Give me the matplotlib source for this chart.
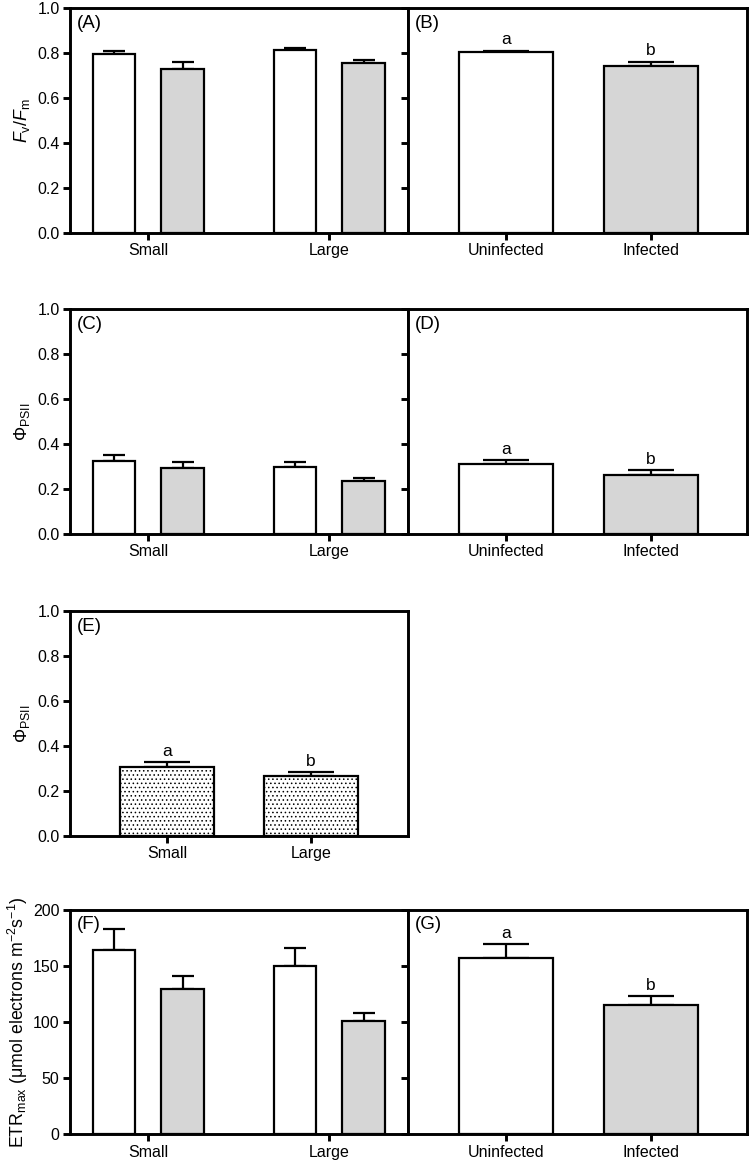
import numpy as np
import matplotlib
matplotlib.use("Agg")
import matplotlib.pyplot as plt

# Данные
size_groups = ["Small", "Large"]
infection_groups = ["Uninfected", "Infected"]

# (A) Fv/Fm: по размеру, белые = неинфицированные, серые = инфицированные
fvfm_uninf = [0.795, 0.813]
fvfm_uninf_err = [0.012, 0.010]
fvfm_inf = [0.728, 0.755]
fvfm_inf_err = [0.033, 0.015]
# (B) Fv/Fm по заражению
fvfm_b = [0.804, 0.740]
fvfm_b_err = [0.007, 0.021]

# (C) PhiPSII
phi_uninf = [0.326, 0.298]
phi_uninf_err = [0.026, 0.022]
phi_inf = [0.294, 0.236]
phi_inf_err = [0.028, 0.015]
# (D)
phi_d = [0.310, 0.264]
phi_d_err = [0.019, 0.021]
# (E) по размеру
phi_e = [0.307, 0.264]
phi_e_err = [0.021, 0.018]

# (F) ETRmax
etr_uninf = [164.1, 150.2]
etr_uninf_err = [18.7, 15.4]
etr_inf = [129.2, 100.7]
etr_inf_err = [12.1, 6.9]
# (G)
etr_g = [157.0, 114.7]
etr_g_err = [12.4, 8.2]

letters = ["a", "b"]

plt.rcParams["font.family"] = ["Liberation Sans", "DejaVu Sans"]
plt.rcParams["mathtext.fontset"] = "custom"
plt.rcParams["mathtext.rm"] = "Liberation Sans"
plt.rcParams["mathtext.it"] = "Liberation Sans:italic"
plt.rcParams["hatch.linewidth"] = 0.6

GRAY = "#d6d6d6"
LW_SPINE = 2.1
LW_BAR = 1.6
TICK_FS = 11.5
PANEL_FS = 13.5
LETTER_FS = 12.5
YLAB_FS = 12.8

fig = plt.figure(figsize=(7.5, 11.64), dpi=100)


def style_axes(ax, ylim, yticks, yfmt, show_labels=True):
    for s in ax.spines.values():
        s.set_linewidth(LW_SPINE)
    ax.set_ylim(*ylim)
    ax.set_yticks(yticks)
    if show_labels:
        ax.set_yticklabels([yfmt.format(v) for v in yticks])
    else:
        ax.set_yticklabels([])
    ax.tick_params(axis="both", direction="out", length=5, width=LW_SPINE,
                   labelsize=TICK_FS, pad=2.5)


def pair_panel(ax, uninf, uninf_err, inf, inf_err, ylim, yticks, yfmt, label):
    x = np.arange(len(size_groups))
    w = 0.236
    off = 0.19
    ax.bar(x - off, uninf, w, color="white", edgecolor="black", linewidth=LW_BAR, zorder=3)
    ax.bar(x + off, inf, w, color=GRAY, edgecolor="black", linewidth=LW_BAR, zorder=3)
    ax.errorbar(x - off, uninf, yerr=[np.zeros(2), uninf_err], fmt="none",
                ecolor="black", elinewidth=LW_BAR, capsize=8.2, capthick=LW_BAR, zorder=2)
    ax.errorbar(x + off, inf, yerr=[np.zeros(2), inf_err], fmt="none",
                ecolor="black", elinewidth=LW_BAR, capsize=8.2, capthick=LW_BAR, zorder=2)
    ax.set_xlim(-0.433, 1.435)
    ax.set_xticks(x)
    ax.set_xticklabels(size_groups)
    style_axes(ax, ylim, yticks, yfmt)
    ax.text(0.02, 0.97, label, transform=ax.transAxes, va="top", ha="left", fontsize=PANEL_FS)


def single_panel(ax, vals, errs, cats, colors, ylim, yticks, yfmt, label,
                 show_labels=False, hatch=None, xlim=(-0.676, 1.662)):
    x = np.arange(len(cats))
    ax.bar(x, vals, 0.65, color=colors, edgecolor="black", linewidth=LW_BAR,
           hatch=hatch, zorder=3)
    ax.errorbar(x, vals, yerr=[np.zeros(len(vals)), errs], fmt="none",
                ecolor="black", elinewidth=LW_BAR, capsize=16.9, capthick=LW_BAR, zorder=2)
    for xi, v, e, t in zip(x, vals, errs, letters):
        ax.annotate(t, (xi, v + e), xytext=(0, 2.5), textcoords="offset points",
                    ha="center", va="bottom", fontsize=LETTER_FS)
    ax.set_xlim(*xlim)
    ax.set_xticks(x)
    ax.set_xticklabels(cats)
    style_axes(ax, ylim, yticks, yfmt, show_labels)
    ax.text(0.02, 0.97, label, transform=ax.transAxes, va="top", ha="left", fontsize=PANEL_FS)


H = 0.193
left_l, w_l = 70 / 750, 338 / 750
left_r, w_r = 408 / 750, 339 / 750
row_bottoms = [1 - 232.7 / 1164, 1 - 534 / 1164, 1 - 835.7 / 1164, 1 - 1134.3 / 1164]

frac_ticks = [0.0, 0.2, 0.4, 0.6, 0.8, 1.0]
etr_ticks = [0, 50, 100, 150, 200]

# Ряд 1
axA = fig.add_axes([left_l, row_bottoms[0], w_l, H])
pair_panel(axA, fvfm_uninf, fvfm_uninf_err, fvfm_inf, fvfm_inf_err,
           (0, 1), frac_ticks, "{:.1f}", "(A)")
axA.set_ylabel(r"$\mathit{F}_\mathrm{v}/\mathit{F}_\mathrm{m}$", fontsize=YLAB_FS, labelpad=4)

axB = fig.add_axes([left_r, row_bottoms[0], w_r, H])
single_panel(axB, fvfm_b, fvfm_b_err, infection_groups, ["white", GRAY],
             (0, 1), frac_ticks, "{:.1f}", "(B)")

# Ряд 2
axC = fig.add_axes([left_l, row_bottoms[1], w_l, H])
pair_panel(axC, phi_uninf, phi_uninf_err, phi_inf, phi_inf_err,
           (0, 1), frac_ticks, "{:.1f}", "(C)")
axC.set_ylabel("Φ$_\\mathrm{PSII}$", fontsize=YLAB_FS, labelpad=4)

axD = fig.add_axes([left_r, row_bottoms[1], w_r, H])
single_panel(axD, phi_d, phi_d_err, infection_groups, ["white", GRAY],
             (0, 1), frac_ticks, "{:.1f}", "(D)")

# Ряд 3
axE = fig.add_axes([left_l, row_bottoms[2], w_l, H])
single_panel(axE, phi_e, phi_e_err, size_groups, ["white", "white"],
             (0, 1), frac_ticks, "{:.1f}", "(E)", show_labels=True,
             hatch="....", xlim=(-0.674, 1.674))
axE.set_ylabel("Φ$_\\mathrm{PSII}$", fontsize=YLAB_FS, labelpad=4)

# Ряд 4
axF = fig.add_axes([left_l, row_bottoms[3], w_l, H])
pair_panel(axF, etr_uninf, etr_uninf_err, etr_inf, etr_inf_err,
           (0, 200), etr_ticks, "{:d}", "(F)")
axF.set_ylabel(r"ETR$_\mathrm{max}$ (μmol electrons m$^{-2}$s$^{-1}$)", fontsize=YLAB_FS, labelpad=2)

axG = fig.add_axes([left_r, row_bottoms[3], w_r, H])
single_panel(axG, etr_g, etr_g_err, infection_groups, ["white", GRAY],
             (0, 200), etr_ticks, "{:d}", "(G)")

fig.savefig("out.png", dpi=100, facecolor="white")
